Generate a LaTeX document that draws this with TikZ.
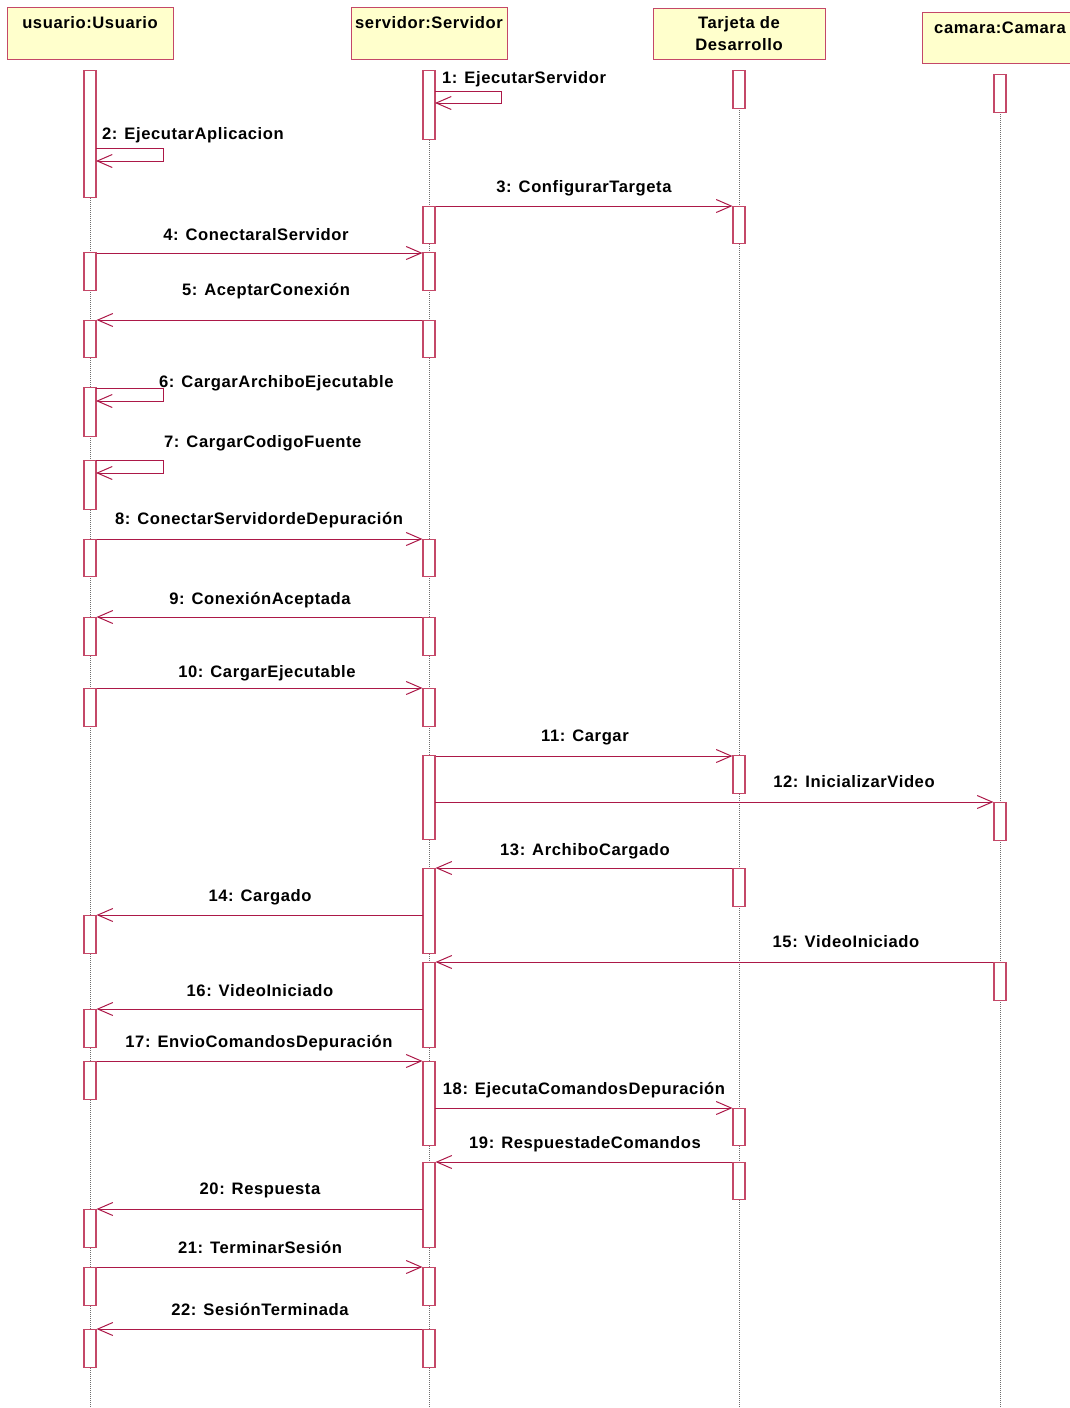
\documentclass[tikz,border=0pt]{standalone}
\usepackage{fontspec}
\setmainfont{Liberation Sans}[LetterSpace=3.5]
\usetikzlibrary{arrows.meta}
\definecolor{msgc}{RGB}{172,24,72}
\definecolor{boxc}{RGB}{196,72,104}
\definecolor{hdrfill}{RGB}{255,255,204}
\definecolor{lifec}{RGB}{110,110,110}
\tikzset{
  hdr/.style={draw=boxc, fill=hdrfill, line width=1.1pt, inner sep=0pt, anchor=north west},
  act/.style={draw=boxc, fill=white, line width=1.1pt, minimum width=12pt, inner sep=0pt},
  life/.style={draw=lifec, line width=0.6pt, dash pattern=on 1pt off 1pt},
  msg/.style={draw=msgc, line width=1pt, -{Straight Barb[length=15pt,width=13pt]}},
  lbl/.style={font=\fontsize{16.6}{19}\selectfont\bfseries, inner sep=0pt, anchor=base},
  lbll/.style={lbl, anchor=base west},
}
\newcommand\actbox[4]{\pgfmathsetmacro\acth{#4-#3}\node[act,minimum height=\acth pt,anchor=north] (#1) at (#2,#3) {};}
\begin{document}
\begin{tikzpicture}[x=1pt,y=-1pt]
\useasboundingbox (0,0) rectangle (1070,1408);
% headers
\node[hdr, minimum width=166pt, minimum height=52pt] (hU) at (7,7) {};
\node[hdr, minimum width=156pt, minimum height=52pt] (hS) at (351,7) {};
\node[hdr, minimum width=172pt, minimum height=51pt] (hT) at (653,8) {};
\node[hdr, minimum width=160pt, minimum height=51pt] (hC) at (922,12) {};
\node[lbl] (tU) at (90,28) {usuario:Usuario};
\node[lbl] (tS) at (429,28) {servidor:Servidor};
\node[lbl] (tT1) at (739,28) {Tarjeta de};
\node[lbl] (tT2) at (739,50) {Desarrollo};
\node[lbl] (tC) at (1000,33) {camara:Camara};
% lifelines
\coordinate (lU0) at (90,70);  \coordinate (lU1) at (90,1408);
\coordinate (lS0) at (429,70); \coordinate (lS1) at (429,1408);
\coordinate (lT0) at (739,70); \coordinate (lT1) at (739,1408);
\coordinate (lC0) at (1000,74);\coordinate (lC1) at (1000,1408);
\draw[life] (lU0) -- (lU1);
\draw[life] (lS0) -- (lS1);
\draw[life] (lT0) -- (lT1);
\draw[life] (lC0) -- (lC1);
% activations: usuario
\actbox{u1}{90}{70}{197}
\actbox{u2}{90}{252}{290}
\actbox{u3}{90}{320}{357}
\actbox{u4}{90}{387}{436}
\actbox{u5}{90}{460}{509}
\actbox{u6}{90}{539}{576}
\actbox{u7}{90}{617}{655}
\actbox{u8}{90}{688}{726}
\actbox{u9}{90}{915}{953}
\actbox{u10}{90}{1009}{1047}
\actbox{u11}{90}{1061}{1099}
\actbox{u12}{90}{1209}{1247}
\actbox{u13}{90}{1267}{1305}
\actbox{u14}{90}{1329}{1367}
% servidor
\actbox{s1}{429}{70}{139}
\actbox{s2}{429}{206}{243}
\actbox{s3}{429}{252}{290}
\actbox{s4}{429}{320}{357}
\actbox{s5}{429}{539}{576}
\actbox{s6}{429}{617}{655}
\actbox{s7}{429}{688}{726}
\actbox{s8}{429}{755}{839}
\actbox{s9}{429}{868}{953}
\actbox{s10}{429}{962}{1047}
\actbox{s11}{429}{1061}{1145}
\actbox{s12}{429}{1162}{1247}
\actbox{s13}{429}{1267}{1305}
\actbox{s14}{429}{1329}{1367}
% tarjeta
\actbox{t1}{739}{70}{108}
\actbox{t2}{739}{206}{243}
\actbox{t3}{739}{755}{793}
\actbox{t4}{739}{868}{906}
\actbox{t5}{739}{1108}{1145}
\actbox{t6}{739}{1162}{1199}
% camara
\actbox{c1}{1000}{74}{112}
\actbox{c2}{1000}{802}{840}
\actbox{c3}{1000}{962}{1000}
% self messages
\coordinate (m1a) at (435,91); \coordinate (m1b) at (501,91); \coordinate (m1c) at (501,103); \coordinate (m1d) at (435,103);
\draw[msg] (m1a) -- (m1b) -- (m1c) -- (m1d);
\node[lbll] (l1) at (442,83) {1: EjecutarServidor};
\coordinate (m2a) at (96,148); \coordinate (m2b) at (163,148); \coordinate (m2c) at (163,161); \coordinate (m2d) at (96,161);
\draw[msg] (m2a) -- (m2b) -- (m2c) -- (m2d);
\node[lbll] (l2) at (102,139) {2: EjecutarAplicacion};
\coordinate (m6a) at (96,388); \coordinate (m6b) at (163,388); \coordinate (m6c) at (163,401); \coordinate (m6d) at (96,401);
\draw[msg] (m6a) -- (m6b) -- (m6c) -- (m6d);
\node[lbll] (l6) at (159,387) {6: CargarArchiboEjecutable};
\coordinate (m7a) at (96,460); \coordinate (m7b) at (163,460); \coordinate (m7c) at (163,473); \coordinate (m7d) at (96,473);
\draw[msg] (m7a) -- (m7b) -- (m7c) -- (m7d);
\node[lbll] (l7) at (164,447) {7: CargarCodigoFuente};
% messages
\draw[msg] (s2.north east) -- (t2.north west);
\node[lbl] (l3) at (584,192) {3: ConfigurarTargeta};
\draw[msg] ([yshift=-1pt]u2.north east) -- ([yshift=-1pt]s3.north west);
\node[lbl] (l4) at (256,240) {4: ConectaralServidor};
\draw[msg] (s4.north west) -- (u3.north east);
\node[lbl] (l5) at (266,295) {5: AceptarConexión};
\draw[msg] (u6.north east) -- (s5.north west);
\node[lbl] (l8) at (259,524) {8: ConectarServidordeDepuración};
\draw[msg] (s6.north west) -- (u7.north east);
\node[lbl] (l9) at (260,604) {9: ConexiónAceptada};
\draw[msg] (u8.north east) -- (s7.north west);
\node[lbl] (l10) at (267,677) {10: CargarEjecutable};
\draw[msg] ([yshift=-1pt]s8.north east) -- ([yshift=-1pt]t3.north west);
\node[lbl] (l11) at (585,741) {11: Cargar};
\coordinate (m12a) at (435,802);
\draw[msg] (m12a) -- (c2.north west);
\node[lbl] (l12) at (854,787) {12: InicializarVideo};
\draw[msg] (t4.north west) -- (s9.north east);
\node[lbl] (l13) at (585,855) {13: ArchiboCargado};
\coordinate (m14a) at (423,915);
\draw[msg] (m14a) -- (u9.north east);
\node[lbl] (l14) at (260,901) {14: Cargado};
\draw[msg] (c3.north west) -- (s10.north east);
\node[lbl] (l15) at (846,947) {15: VideoIniciado};
\coordinate (m16a) at (423,1009);
\draw[msg] (m16a) -- (u10.north east);
\node[lbl] (l16) at (260,996) {16: VideoIniciado};
\draw[msg] (u11.north east) -- (s11.north west);
\node[lbl] (l17) at (259,1047) {17: EnvioComandosDepuración};
\coordinate (m18a) at (435,1108);
\draw[msg] (m18a) -- (t5.north west);
\node[lbl] (l18) at (584,1094) {18: EjecutaComandosDepuración};
\draw[msg] (t6.north west) -- (s12.north east);
\node[lbl] (l19) at (585,1148) {19: RespuestadeComandos};
\coordinate (m20a) at (423,1209);
\draw[msg] (m20a) -- (u12.north east);
\node[lbl] (l20) at (260,1194) {20: Respuesta};
\draw[msg] (u13.north east) -- (s13.north west);
\node[lbl] (l21) at (260,1253) {21: TerminarSesión};
\draw[msg] (s14.north west) -- (u14.north east);
\node[lbl] (l22) at (260,1315) {22: SesiónTerminada};
\end{tikzpicture}
\end{document}
